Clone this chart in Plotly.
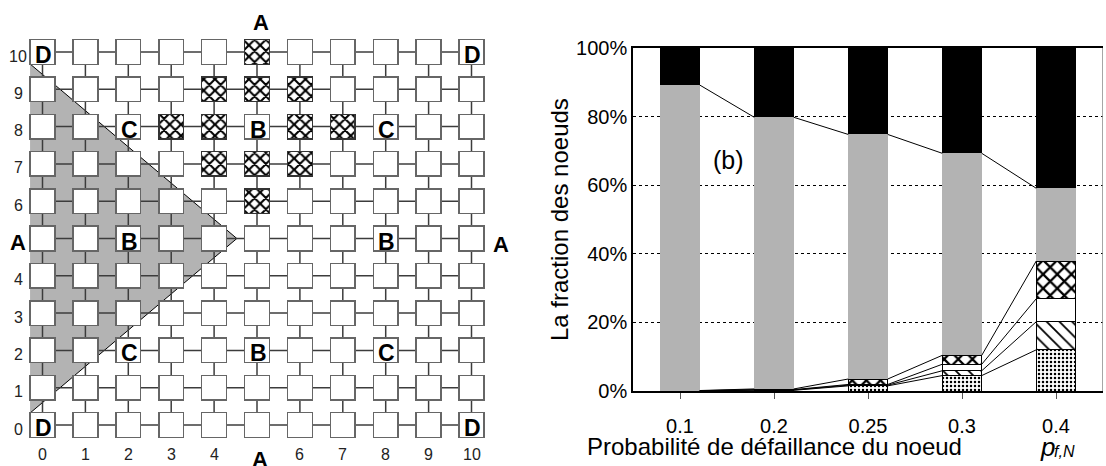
import plotly.graph_objects as go

# ---------------- Left panel data (11 x 11 mesh) ----------------
grid_cols = list(range(11))
grid_rows = list(range(11))
hatched_cells = [(5, 10), (4, 9), (5, 9), (6, 9), (3, 8), (4, 8), (6, 8), (7, 8),
                 (4, 7), (5, 7), (6, 7), (5, 6)]
letter_labels = ["D", "D", "D", "D", "C", "C", "C", "C", "B", "B", "B", "B"]
letter_cols = [0, 0, 10, 10, 2, 2, 8, 8, 2, 5, 8, 5]
letter_rows = [0, 10, 0, 10, 2, 8, 2, 8, 5, 8, 5, 2]
col_tick_vals = [0, 1, 2, 3, 4, 6, 7, 8, 9, 10]
col_tick_text = ["0", "1", "2", "3", "4", "6", "7", "8", "9", "10"]
row_tick_vals = [0, 1, 2, 3, 4, 6, 7, 8, 9, 10]
row_tick_text = ["0", "1", "2", "3", "4", "6", "7", "8", "9", "10"]

# ---------------- Right panel data (stacked %, bottom to top) ----------------
categories = ["0.1", "0.2", "0.25", "0.3", "0.4"]
dotted = [0.05, 0.2, 1.5, 4.5, 12.0]
diag = [0.02, 0.1, 0.2, 1.4, 8.2]
blank = [0.02, 0.1, 0.2, 1.9, 6.7]
cross = [0.05, 0.2, 1.6, 2.6, 11.0]
gray = [89.06, 79.2, 71.3, 58.9, 21.2]
black = [10.8, 20.2, 25.2, 30.7, 40.9]
y_ticks = [0, 20, 40, 60, 80, 100]
y_tick_text = ["0%", "20%", "40%", "60%", "80%", "100%"]

W, H = 1106, 466
FONT = "Arial, Liberation Sans, sans-serif"
SQ_W, SQ_H = 0.58, 0.66
BW = 0.42

# pixel geometry of the left mesh
COL_PX, ROW_PX = 42.9, 37.3
X0_PX, Y10_PX = 42.5, 52.0          # centre of column 0 / row 10
LEFT_W_PX = 520
lx_range = [-X0_PX / COL_PX, (LEFT_W_PX - X0_PX) / COL_PX]
ly_range = [10 - (H - Y10_PX) / ROW_PX, 10 + Y10_PX / ROW_PX]

fig = go.Figure()

# ---- left: squares as bars with explicit base ----
white_cells = [(c, r) for r in grid_rows for c in grid_cols if (c, r) not in hatched_cells]
fig.add_trace(go.Bar(
    x=[c for c, r in white_cells], y=[SQ_H] * len(white_cells),
    base=[r - SQ_H / 2 for c, r in white_cells], width=SQ_W,
    marker=dict(color="white", line=dict(color="#666666", width=1.5)),
    xaxis="x", yaxis="y", showlegend=False, hoverinfo="skip"))
fig.add_trace(go.Bar(
    x=[c for c, r in hatched_cells], y=[SQ_H] * len(hatched_cells),
    base=[r - SQ_H / 2 for c, r in hatched_cells], width=SQ_W,
    marker=dict(color="white", line=dict(color="#333333", width=1.5),
                pattern=dict(shape="x", fgcolor="black", bgcolor="white", size=8, solidity=0.45)),
    xaxis="x", yaxis="y", showlegend=False, hoverinfo="skip"))

shapes = []
shapes.append(dict(type="path", xref="x", yref="y", layer="below",
                   path="M -0.29,9.68 L 4.53,5.0 L -0.29,0.32 Z",
                   fillcolor="#b3b3b3", line=dict(width=0)))
shapes.append(dict(type="path", xref="x", yref="y", layer="below",
                   path="M -0.29,9.68 L 4.53,5.0 L -0.29,0.32",
                   line=dict(color="black", width=1)))
for r in grid_rows:
    shapes.append(dict(type="line", xref="x", yref="y", layer="below",
                       x0=grid_cols[0], x1=grid_cols[-1], y0=r, y1=r,
                       line=dict(color="#3c3c3c", width=1.5)))
for c in grid_cols:
    shapes.append(dict(type="line", xref="x", yref="y", layer="below",
                       x0=c, x1=c, y0=grid_rows[0], y1=grid_rows[-1],
                       line=dict(color="#3c3c3c", width=1.5)))

# ---- right: stacked bars ----
xpos = list(range(len(categories)))
series = [
    (dotted, dict(color="white", line=dict(color="black", width=1),
                  pattern=dict(shape=".", fgcolor="black", bgcolor="white", size=4, solidity=0.3))),
    (diag, dict(color="white", line=dict(color="black", width=1),
                pattern=dict(shape="\\", fgcolor="black", bgcolor="white", size=9, solidity=0.2))),
    (blank, dict(color="white", line=dict(color="black", width=1))),
    (cross, dict(color="white", line=dict(color="black", width=1),
                 pattern=dict(shape="x", fgcolor="black", bgcolor="white", size=10, solidity=0.4))),
    (gray, dict(color="#b3b3b3", line=dict(width=0))),
    (black, dict(color="black", line=dict(width=0))),
]
for vals, mk in series:
    fig.add_trace(go.Bar(x=xpos, y=vals, width=BW, marker=mk, xaxis="x2", yaxis="y2",
                         showlegend=False, hoverinfo="skip"))

lx, ly = [], []
cum = [0.0] * len(categories)
for vals, _ in series[:-1]:
    cum = [a + b for a, b in zip(cum, vals)]
    for i in range(len(categories) - 1):
        lx += [xpos[i] + BW / 2, xpos[i + 1] - BW / 2, None]
        ly += [cum[i], cum[i + 1], None]
fig.add_trace(go.Scatter(x=lx, y=ly, mode="lines", line=dict(color="black", width=1),
                         xaxis="x2", yaxis="y2", showlegend=False, hoverinfo="skip"))

shapes.append(dict(type="line", xref="x2", yref="y2", x0=4.5, x1=4.5, y0=0, y1=100,
                   line=dict(color="#888888", width=1.5)))

annotations = []
for t, c, r in zip(letter_labels, letter_cols, letter_rows):
    annotations.append(dict(x=c, y=r, xref="x", yref="y", text=f"<b>{t}</b>", showarrow=False,
                            xanchor="center", yanchor="middle", xshift=1, yshift=-3,
                            font=dict(family=FONT, size=23, color="black")))
for v, t in zip(col_tick_vals, col_tick_text):
    annotations.append(dict(x=v, y=-0.78, xref="x", yref="y", text=t, showarrow=False,
                            xanchor="center", yanchor="middle",
                            font=dict(family=FONT, size=16, color="#222222")))
for v, t in zip(row_tick_vals, row_tick_text):
    annotations.append(dict(x=-0.56, y=v, xref="x", yref="y", text=t, showarrow=False,
                            xanchor="center", yanchor="middle", yshift=-4,
                            font=dict(family=FONT, size=16, color="#222222")))
for ax, ay in [(5.09, 10.79), (-0.57, 4.88), (10.69, 4.85), (5.07, -0.93)]:
    annotations.append(dict(x=ax, y=ay, xref="x", yref="y", text="<b>A</b>", showarrow=False,
                            xanchor="center", yanchor="middle",
                            font=dict(family=FONT, size=22, color="black")))

def pa(px, py, **kw):
    d = dict(x=px / W, y=1 - py / H, xref="paper", yref="paper", showarrow=False,
             yanchor="middle")
    d.update(kw)
    return d

annotations += [
    pa(728, 160, text="(b)", xanchor="center", font=dict(family=FONT, size=25, color="black")),
    pa(585, 446, text="Probabilité de défaillance du noeud", xanchor="left",
       font=dict(family=FONT, size=24, color="black")),
    pa(1038, 447, text="<i>p</i>", xanchor="left", font=dict(family=FONT, size=26, color="black")),
    pa(1052, 451, text="<i>f,N</i>", xanchor="left", font=dict(family=FONT, size=16, color="black")),
    pa(559, 220, text="La fraction des noeuds", xanchor="center", textangle=-90,
       font=dict(family=FONT, size=24, color="black")),
]

fig.update_layout(
    template="none",
    width=W, height=H, autosize=False, margin=dict(l=0, r=0, t=0, b=0, pad=0, autoexpand=False),
    paper_bgcolor="white", plot_bgcolor="rgba(0,0,0,0)", barmode="stack",
    font=dict(family=FONT, color="black"),
    xaxis=dict(domain=[0, LEFT_W_PX / W], range=lx_range, visible=False, automargin=False),
    yaxis=dict(domain=[0, 1], range=ly_range, visible=False, automargin=False),
    xaxis2=dict(domain=[633 / W, 1103 / W], range=[-0.5, 4.5], anchor="y2", automargin=False,
                tickmode="array", tickvals=xpos, ticktext=categories, ticks="outside", ticklen=6,
                tickcolor="#555555", showline=True, linecolor="black", linewidth=1.5,
                mirror=True, showgrid=False, zeroline=False, ticklabelstandoff=10,
                tickfont=dict(family=FONT, size=20, color="black")),
    yaxis2=dict(domain=[1 - 391 / H, 1 - 48 / H], range=[0, 100], anchor="x2", automargin=False,
                tickmode="array", tickvals=y_ticks, ticktext=y_tick_text, ticks="",
                showline=True, linecolor="black", linewidth=1.5, showgrid=True,
                gridcolor="black", griddash="dot", gridwidth=1, zeroline=False,
                tickfont=dict(family=FONT, size=20, color="black")),
    shapes=shapes, annotations=annotations,
)

fig.write_html("out.html", config={"responsive": False, "displayModeBar": False},
               post_script="document.body.style.margin='0';")
